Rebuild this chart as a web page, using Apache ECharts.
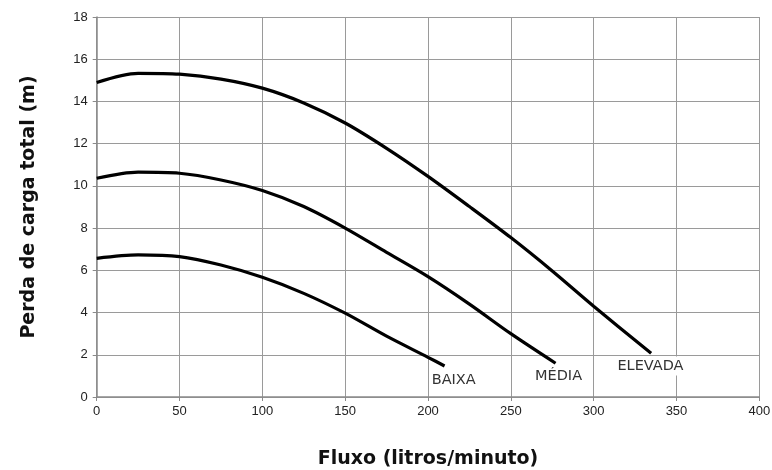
<!DOCTYPE html>
<html>
<head>
<meta charset="utf-8">
<script src="https://cdn.jsdelivr.net/npm/echarts@6/dist/echarts.min.js"></script>
<style>
  html, body { margin: 0; padding: 0; background: #fff; }
  #chart { width: 772px; height: 470px; }
</style>
</head>
<body>
<div id="chart"></div>
<script>
// Pump curves: flow (L/min) vs. total head loss (m) for three speed settings
const curveNames = ['BAIXA', 'MÉDIA', 'ELEVADA'];

const fluxoBaixa = [0, 25, 50, 75, 100, 125, 150, 175, 200, 210];
const perdaBaixa = [6.57, 6.73, 6.65, 6.25, 5.67, 4.91, 3.97, 2.88, 1.88, 1.47];

const fluxoMedia = [0, 25, 50, 75, 100, 125, 150, 175, 200, 225, 250, 277];
const perdaMedia = [10.36, 10.65, 10.6, 10.28, 9.78, 9.02, 8.0, 6.85, 5.7, 4.4, 3.0, 1.6];

const fluxoElevada = [0, 25, 50, 75, 100, 125, 150, 175, 200, 225, 250, 275, 300, 334.7];
const perdaElevada = [14.9, 15.33, 15.29, 15.06, 14.63, 13.93, 12.98, 11.78, 10.45, 9.02, 7.55, 5.97, 4.3, 2.07];

const xTicks = [0, 50, 100, 150, 200, 250, 300, 350, 400];
const yTicks = [0, 2, 4, 6, 8, 10, 12, 14, 16, 18];

const pairs = (xs, ys) => xs.map((x, i) => [x, ys[i]]);

// Where each curve's name is written, in data units
const labelAt = [[215.5, 0.8], [278.8, 1.0], [334.3, 1.47]];

const tickFont = { fontFamily: 'Liberation Sans, Arial, sans-serif', fontSize: 13, color: '#222' };
const gridLine = { show: true, lineStyle: { color: '#9a9a9a', width: 1 } };
const titleFont = { fontFamily: 'DejaVu Sans, sans-serif', fontWeight: 'bold', fontSize: 19, color: '#111' };

function curve(name, xs, ys, idx) {
  return {
    name: name,
    type: 'line',
    data: pairs(xs, ys),
    smooth: 0.3,
    showSymbol: false,
    lineStyle: { color: '#000', width: 3.2 },
    z: 3,
    markPoint: {
      symbol: 'rect',
      symbolSize: 0,
      silent: true,
      data: [{
        coord: labelAt[idx],
        label: {
          show: true,
          position: 'inside',
          formatter: name,
          fontFamily: 'DejaVu Sans, sans-serif',
          fontSize: 14.5,
          color: '#333',
          backgroundColor: '#fff',
          padding: [2, 2]
        }
      }],
      z: 2
    }
  };
}

const chart = echarts.init(document.getElementById('chart'), null, { renderer: 'canvas' });
chart.setOption({
  animation: false,
  backgroundColor: '#fff',
  grid: { left: 96.7, right: 12.7, top: 17, bottom: 73, containLabel: false, outerBoundsMode: 'none' },
  xAxis: {
    type: 'value',
    min: xTicks[0],
    max: xTicks[xTicks.length - 1],
    interval: 50,
    name: 'Fluxo (litros/minuto)',
    nameLocation: 'middle',
    nameGap: 53,
    nameTextStyle: titleFont,
    axisLine: { show: true, lineStyle: { color: '#8a8a8a', width: 1.5 } },
    axisTick: { show: true, length: 4, lineStyle: { color: '#8a8a8a' } },
    axisLabel: Object.assign({ margin: 8 }, tickFont),
    splitLine: gridLine
  },
  yAxis: {
    type: 'value',
    min: yTicks[0],
    max: yTicks[yTicks.length - 1],
    interval: 2,
    name: 'Perda de carga total (m)',
    nameLocation: 'middle',
    nameGap: 58,
    nameTextStyle: titleFont,
    axisLine: { show: true, lineStyle: { color: '#8a8a8a', width: 1.5 } },
    axisTick: { show: true, length: 4, lineStyle: { color: '#8a8a8a' } },
    axisLabel: Object.assign({ margin: 9 }, tickFont),
    splitLine: gridLine
  },
  series: [
    curve(curveNames[0], fluxoBaixa, perdaBaixa, 0),
    curve(curveNames[1], fluxoMedia, perdaMedia, 1),
    curve(curveNames[2], fluxoElevada, perdaElevada, 2)
  ]
});
</script>
</body>
</html>
